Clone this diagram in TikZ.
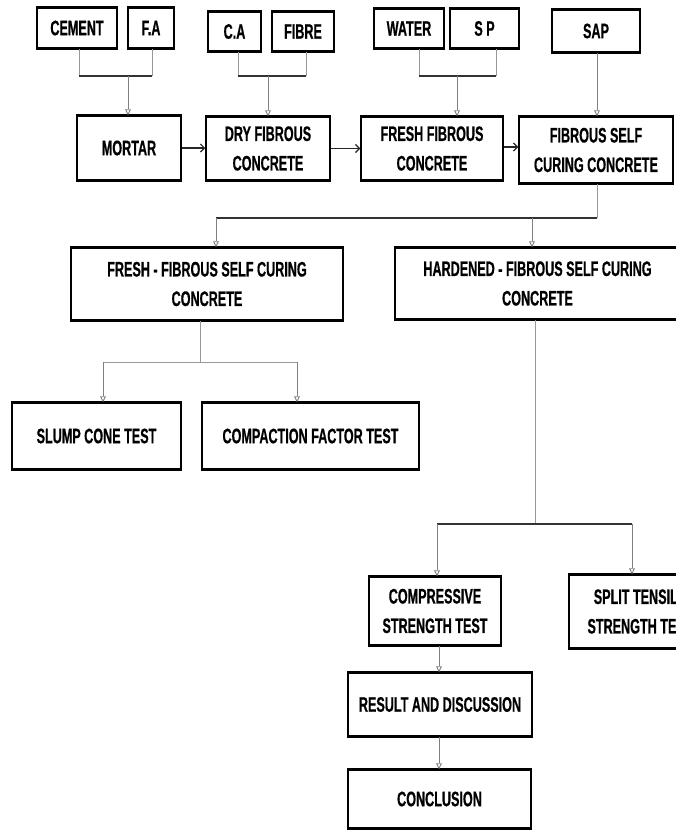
\documentclass[tikz,border=0pt]{standalone}
\usepackage{fontspec}
\newfontfamily\condf[FakeStretch=0.6,FakeBold=0.6]{Liberation Sans}
\usetikzlibrary{arrows.meta}
\begin{document}
\begin{tikzpicture}[x=1pt,y=-1pt,
  box/.style={draw=black,line width=1.5pt,fill=white,inner sep=0pt,align=center,
    font=\condf\bfseries\fontsize{21}{29.5}\selectfont},
  drop/.style={draw=black!40,line width=0.9pt},
  hbar/.style={draw=black!80,line width=1.1pt},
  arr/.style={draw=black!50,line width=0.9pt,-{Triangle[open,length=6pt,width=6pt]}},
  darr/.style={draw=black!85,line width=1.1pt,-{Straight Barb[length=4pt,width=8pt]}},
  edge/.style={line width=3pt,line cap=butt}]
\useasboundingbox (0,0) rectangle (676,830);
\fill[white] (0,0) rectangle (676,830);
\clip (0,0) rectangle (676,830);

% top row
\node[box,minimum width=80pt,minimum height=40pt] (cement) at (77,28) {CEMENT};
\node[box,minimum width=46pt,minimum height=40pt] (fa) at (151,28) {F.A};
\node[box,minimum width=53pt,minimum height=39pt] (ca) at (234.5,31.5) {C.A};
\node[box,minimum width=62pt,minimum height=39pt] (fibre) at (303,31.5) {FIBRE};
\node[box,minimum width=70pt,minimum height=39pt] (water) at (409,28.5) {WATER};
\node[box,minimum width=69pt,minimum height=39pt] (sp) at (484.5,28.5) {S P};
\node[box,minimum width=88pt,minimum height=42pt] (sap) at (596,31) {SAP};
% second row
\node[box,minimum width=104pt,minimum height=64pt] (mortar) at (129,148) {MORTAR};
\node[box,minimum width=124pt,minimum height=63pt] (dry) at (268,148.5) {DRY FIBROUS\\CONCRETE};
\node[box,minimum width=142pt,minimum height=63pt] (freshf) at (432,148.5) {FRESH FIBROUS\\CONCRETE};
\node[box,minimum width=154pt,minimum height=66pt] (fsc) at (596,150) {FIBROUS SELF\\CURING CONCRETE};
% third row
\node[box,minimum width=272pt,minimum height=72pt] (fresh2) at (207,284) {FRESH - FIBROUS SELF CURING\\CONCRETE};
\node[box,minimum width=285pt,minimum height=71pt] (hard) at (537.5,283.5) {HARDENED - FIBROUS SELF CURING\\CONCRETE};
% tests
\node[box,minimum width=169pt,minimum height=66pt] (slump) at (96.5,436) {SLUMP CONE TEST};
\node[box,minimum width=217pt,minimum height=66pt] (compaction) at (310.5,436) {COMPACTION FACTOR TEST};
\node[box,minimum width=132pt,minimum height=68pt] (compr) at (435,611) {COMPRESSIVE\\STRENGTH TEST};
\node[box,minimum width=142pt,minimum height=73pt] (split) at (640,611.5) {SPLIT TENSILE\\STRENGTH TEST};
\node[box,minimum width=184pt,minimum height=63pt] (result) at (440,704.5) {RESULT AND DISCUSSION};
\node[box,minimum width=183pt,minimum height=58pt] (concl) at (439.5,799) {CONCLUSION};

% heavier top and bottom edges
\foreach \n in {cement,fa,ca,fibre,water,sp,sap,mortar,dry,freshf,fsc,fresh2,hard,slump,compaction,compr,split,result,concl}{
  \draw[edge] (\n.north west) -- (\n.north east);
  \draw[edge] (\n.south west) -- (\n.south east);
}

% junction coordinates
\coordinate (j1) at (128,76);
\coordinate (j2) at (268,76);
\coordinate (j3) at (457,76);
\coordinate (j4) at (216,218);
\coordinate (j5) at (532,218);
\coordinate (j6) at (200,362);
\coordinate (j7) at (535,524);

% cement + fa -> mortar
\draw[drop] ([xshift=2pt]cement.south) -- ([xshift=2pt]cement.south |- j1);
\draw[drop] ([xshift=1pt]fa.south) -- ([xshift=1pt]fa.south |- j1);
\draw[hbar] ([xshift=2pt]cement.south |- j1) -- ([xshift=1pt]fa.south |- j1);
\draw[arr] (j1) -- (j1 |- mortar.north);
% ca + fibre -> dry
\draw[drop] ([xshift=3.5pt]ca.south) -- ([xshift=3.5pt]ca.south |- j2);
\draw[drop] ([xshift=3pt]fibre.south) -- ([xshift=3pt]fibre.south |- j2);
\draw[hbar] ([xshift=3.5pt]ca.south |- j2) -- ([xshift=3pt]fibre.south |- j2);
\draw[arr] (j2) -- (j2 |- dry.north);
% water + sp -> fresh fibrous
\draw[drop] ([xshift=10pt]water.south) -- ([xshift=10pt]water.south |- j3);
\draw[drop] ([xshift=11.5pt]sp.south) -- ([xshift=11.5pt]sp.south |- j3);
\draw[hbar] ([xshift=10pt]water.south |- j3) -- ([xshift=11.5pt]sp.south |- j3);
\draw[arr] (j3) -- (j3 |- freshf.north);
% sap -> fsc
\draw[arr] ([xshift=1pt]sap.south) -- ([xshift=1pt]fsc.north);
% horizontal chain
\draw[darr] (mortar.east) -- (mortar.east -| dry.west);
\draw[darr] (dry.east) -- (dry.east -| freshf.west);
\draw[darr] ([yshift=1.5pt]freshf.east) -- ([yshift=1.5pt]freshf.east -| fsc.west);
% fsc -> fresh2 / hard
\draw[drop] ([xshift=1pt]fsc.south) -- ([xshift=1pt]fsc.south |- j4);
\draw[hbar] (j4) -- ([xshift=1pt]fsc.south |- j4);
\draw[arr] (j4) -- (j4 |- fresh2.north);
\draw[arr] (j5) -- (j5 |- hard.north);
% fresh2 -> slump / compaction
\coordinate (k1) at (slump.north |- j6);
\coordinate (k2) at (compaction.north |- j6);
\draw[drop] ([xshift=-7pt]fresh2.south) -- (j6);
\draw[drop] ([xshift=6.5pt]k1) -- ([xshift=-13.5pt]k2);
\draw[arr] ([xshift=6.5pt]k1) -- ([xshift=6.5pt]slump.north);
\draw[arr] ([xshift=-13.5pt]k2) -- ([xshift=-13.5pt]compaction.north);
% hard -> compr / split
\draw[drop] ([xshift=-2.5pt]hard.south) -- (j7);
\draw[hbar] ([xshift=2pt]compr.north |- j7) -- ([xshift=-8pt]split.north |- j7);
\draw[arr] ([xshift=2pt]compr.north |- j7) -- ([xshift=2pt]compr.north);
\draw[arr] ([xshift=-8pt]split.north |- j7) -- ([xshift=-8pt]split.north);
% compr -> result -> conclusion
\draw[arr] ([xshift=4pt]compr.south) -- ([xshift=4pt]compr.south |- result.north);
\draw[arr] ([xshift=-1pt]result.south) -- ([xshift=-1pt]result.south |- concl.north);
\end{tikzpicture}
\end{document}
